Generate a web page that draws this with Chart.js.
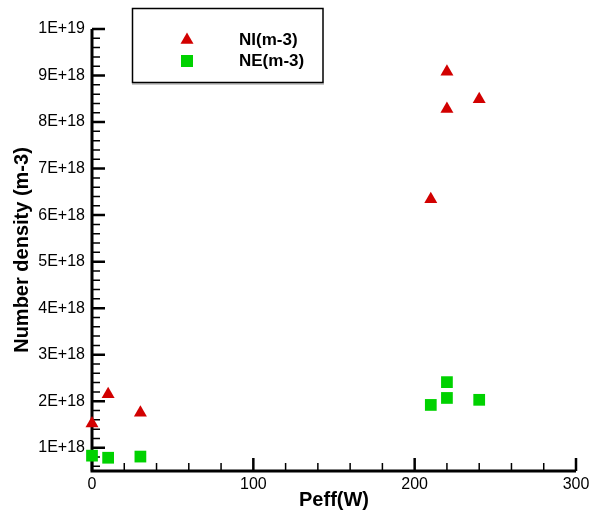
<!DOCTYPE html>
<html>
<head>
<meta charset="utf-8">
<script src="https://cdn.jsdelivr.net/npm/chart.js@4.4.1/dist/chart.umd.min.js"></script>
<style>
    body { margin: 0; background: #fff; }
    #wrap { width: 590px; height: 515px; }
</style>
</head>
<body>
<div id="wrap"><canvas id="chart" width="590" height="515"></canvas></div>
<script>
// data
const niPower = [0, 10, 30, 210, 220, 220, 240];
const niDensity = [1.52e18, 2.15e18, 1.75e18, 6.34e18, 9.08e18, 8.28e18, 8.49e18];
const nePower = [0, 10, 30, 210, 220, 220, 240];
const neDensity = [0.83e18, 0.785e18, 0.81e18, 1.92e18, 2.41e18, 2.07e18, 2.03e18];

const xTickValues = [0, 100, 200, 300];
const xTickLabels = ['0', '100', '200', '300'];
const yTickValues = [1e18, 2e18, 3e18, 4e18, 5e18, 6e18, 7e18, 8e18, 9e18, 1e19];
const yTickLabels = ['1E+18', '2E+18', '3E+18', '4E+18', '5E+18', '6E+18', '7E+18', '8E+18', '9E+18', '1E+19'];

const seriesNames = ['NI(m-3)', 'NE(m-3)'];
const red = '#d20000';
const green = '#00d200';
const font = "'Liberation Sans', Arial, sans-serif";

function toPoints(xs, ys) {
    return xs.map((x, i) => ({ x: x, y: ys[i] }));
}

// axis lines and inward ticks (major + minor), like the original plot
const axesPlugin = {
    id: 'axes',
    beforeDatasetsDraw(chart) {
        const ctx = chart.ctx;
        const xs = chart.scales.x;
        const ys = chart.scales.y;
        const area = chart.chartArea;
        ctx.save();
        ctx.strokeStyle = '#000';

        ctx.lineWidth = 1.5;
        ctx.beginPath();
        for (let i = 3; i < 50; i++) {
            if (i % 5 === 0) continue;
            let py = ys.getPixelForValue(i * 2e17);
            ctx.moveTo(area.left, py);
            ctx.lineTo(area.left + 8, py);
        }
        for (let i = 1; i < 15; i++) {
            if (i % 5 === 0) continue;
            let px = xs.getPixelForValue(i * 20);
            ctx.moveTo(px, area.bottom);
            ctx.lineTo(px, area.bottom - 8);
        }
        ctx.stroke();

        ctx.lineWidth = 2.5;
        ctx.beginPath();
        yTickValues.forEach(v => {
            let py = ys.getPixelForValue(v);
            ctx.moveTo(area.left, py);
            ctx.lineTo(area.left + 13, py);
        });
        xTickValues.forEach(v => {
            let px = xs.getPixelForValue(v);
            ctx.moveTo(px, area.bottom);
            ctx.lineTo(px, area.bottom - 13);
        });
        ctx.stroke();

        ctx.lineWidth = 3;
        ctx.beginPath();
        ctx.moveTo(area.left, ys.getPixelForValue(1e19));
        ctx.lineTo(area.left, area.bottom);
        ctx.lineTo(xs.getPixelForValue(300), area.bottom);
        ctx.stroke();
        ctx.restore();
    },
    afterDraw(chart) {
        // boxed legend in the upper left
        const ctx = chart.ctx;
        ctx.save();
        ctx.fillStyle = '#c8c8c8';
        ctx.fillRect(132, 83, 192, 2);
        ctx.strokeStyle = '#000';
        ctx.lineWidth = 1.5;
        ctx.strokeRect(132.5, 8.5, 190.5, 74);

        ctx.fillStyle = red;
        ctx.beginPath();
        let r = 7.5;
        let cx = 187, cy = 40;
        ctx.moveTo(cx, cy - r);
        ctx.lineTo(cx + Math.sin(2 * Math.PI / 3) * r, cy + r / 2);
        ctx.lineTo(cx - Math.sin(2 * Math.PI / 3) * r, cy + r / 2);
        ctx.closePath();
        ctx.fill();

        ctx.fillStyle = green;
        ctx.fillRect(181, 55, 12, 12);

        ctx.fillStyle = '#000';
        ctx.font = 'bold 17px ' + font;
        ctx.textBaseline = 'middle';
        ctx.fillText(seriesNames[0], 239, 40);
        ctx.fillText(seriesNames[1], 239, 61);
        ctx.restore();
    }
};

let ctx = document.getElementById('chart');

let chart = new Chart(ctx, {
    type: 'scatter',
    data: {
        datasets: [{
            label: seriesNames[0],
            data: toPoints(niPower, niDensity),
            pointStyle: 'triangle',
            pointRadius: 7.5,
            backgroundColor: red,
            borderColor: red,
            borderWidth: 0,
            clip: false
        }, {
            label: seriesNames[1],
            data: toPoints(nePower, neDensity),
            pointStyle: 'rect',
            pointRadius: 8.3,
            backgroundColor: green,
            borderColor: green,
            borderWidth: 0,
            clip: false
        }]
    },
    options: {
        responsive: false,
        animation: false,
        layout: { padding: { left: 0, top: 29, right: 14, bottom: 0 } },
        plugins: {
            legend: { display: false },
            tooltip: { enabled: false }
        },
        scales: {
            x: {
                type: 'linear',
                min: 0,
                max: 300,
                afterFit: scale => {
                    scale.height = 44;
                    scale.paddingLeft = 0;
                    scale.paddingRight = 0;
                },
                afterBuildTicks: scale => { scale.ticks = xTickValues.map(v => ({ value: v })); },
                grid: { display: false, drawTicks: false },
                border: { display: false },
                ticks: {
                    padding: 4,
                    color: '#000',
                    font: { family: font, size: 16 },
                    maxRotation: 0,
                    callback: (value, index) => xTickLabels[index]
                },
                title: {
                    display: true,
                    text: 'Peff(W)',
                    color: '#000',
                    font: { family: font, size: 20, weight: 'bold' },
                    padding: { top: 0, bottom: 3 }
                }
            },
            y: {
                type: 'linear',
                min: 5e17,
                max: 1e19,
                afterFit: scale => {
                    scale.width = 92;
                    scale.paddingTop = 0;
                    scale.paddingBottom = 0;
                },
                afterBuildTicks: scale => { scale.ticks = yTickValues.map(v => ({ value: v })); },
                grid: { display: false, drawTicks: false },
                border: { display: false },
                ticks: {
                    padding: 7,
                    color: '#000',
                    font: { family: font, size: 16 },
                    callback: (value, index) => yTickLabels[index]
                },
                title: {
                    display: true,
                    text: 'Number density (m-3)',
                    color: '#000',
                    font: { family: font, size: 20, weight: 'bold' },
                    padding: { top: 10, bottom: 0 }
                }
            }
        }
    },
    plugins: [axesPlugin]
});
</script>
</body>
</html>
